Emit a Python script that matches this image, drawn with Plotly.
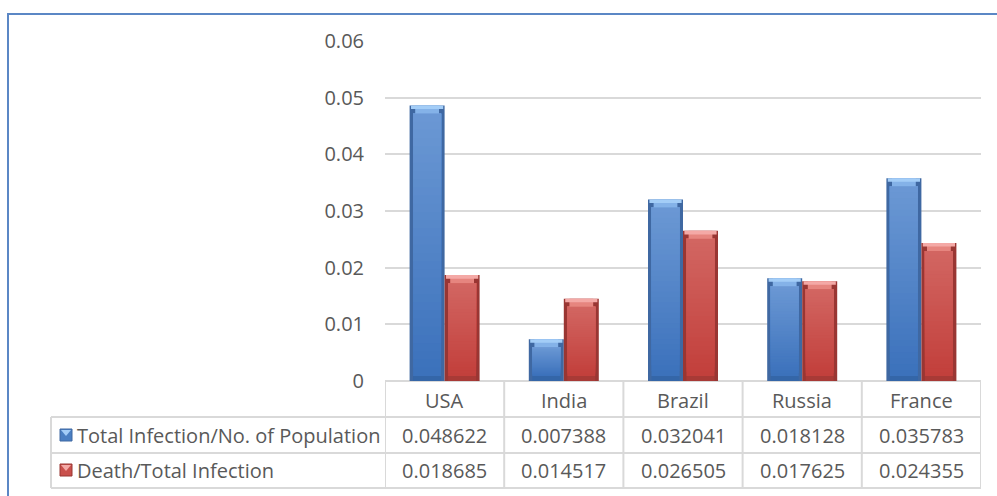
import plotly.graph_objects as go

# Data
countries = ["USA", "India", "Brazil", "Russia", "France"]
infection_rate = [0.048622, 0.007388, 0.032041, 0.018128, 0.035783]
death_rate = [0.018685, 0.014517, 0.026505, 0.017625, 0.024355]
series_names = ["Total Infection/No. of Population", "Death/Total Infection"]
y_ticks = [0, 0.01, 0.02, 0.03, 0.04, 0.05, 0.06]

W, H = 997, 496
FONT = "Open Sans"
FSIZE = 20
TXT = "#595959"
GRID = "#d9d9d9"


def px(x):
    return x / W


def py(y):
    return 1 - y / H


def mix(c1, c2, t):
    a = [int(c1[i:i + 2], 16) for i in (1, 3, 5)]
    b = [int(c2[i:i + 2], 16) for i in (1, 3, 5)]
    return "#" + "".join(f"{round(p + (q - p) * t):02x}" for p, q in zip(a, b))


# plot-area geometry (pixels)
X0, X1 = 385, 981
Y_TOP, Y_BOT = 41, 381
col_px = (X1 - X0) / len(countries)
unit_y = (Y_BOT - Y_TOP) / 0.06

bar_w = 35 / col_px        # one bar width, category units
edge = 3.5 / col_px        # bevel edge width
cap_top = 8 / unit_y       # top bevel height
cap_bot = 5 / unit_y       # bottom bevel height
N_SEG = 32                 # vertical gradient steps in the bar body

xs = list(range(len(countries)))

styles = [
    dict(vals=infection_rate, off=-bar_w, edge="#3f68a2",
         body_lo="#3b71bb", body_hi="#6b98d4",
         top="#a3cdf7", top2="#84b2e8", bottom="#3466a8", key="#4a7fc2"),
    dict(vals=death_rate, off=0.0, edge="#993633",
         body_lo="#c23f3b", body_hi="#d26662",
         top="#f4a9a6", top2="#e6857f", bottom="#a83a36", key="#c9504c"),
]

fig = go.Figure()
for st in styles:
    v = st["vals"]
    n = len(v)
    # outer bar (dark edge)
    fig.add_trace(go.Bar(x=xs, y=v, offset=st["off"], width=bar_w,
                         marker=dict(color=st["edge"], line=dict(width=0)),
                         showlegend=False, hoverinfo="skip"))
    # body gradient: each slice runs to the body top, the next one paints over it
    body_h = [max(a - cap_top - cap_bot, 0) for a in v]
    for k in range(N_SEG):
        fig.add_trace(go.Bar(
            x=xs, y=[h * (N_SEG - k) / N_SEG for h in body_h],
            base=[cap_bot + h * k / N_SEG for h in body_h],
            offset=st["off"] + edge, width=bar_w - 2 * edge,
            marker=dict(color=mix(st["body_lo"], st["body_hi"], (k + 0.5) / N_SEG),
                        line=dict(width=0)),
            showlegend=False, hoverinfo="skip"))
    # top bevel: narrower soft strip, then the wide light strip above it
    fig.add_trace(go.Bar(x=xs, y=[cap_top] * n,
                         base=[a - cap_top for a in v],
                         offset=st["off"] + edge * 1.6, width=bar_w - edge * 3.2,
                         marker=dict(color=st["top2"], line=dict(width=0)),
                         showlegend=False, hoverinfo="skip"))
    fig.add_trace(go.Bar(x=xs, y=[cap_top * 0.45] * n,
                         base=[a - cap_top * 0.45 for a in v],
                         offset=st["off"] + edge * 0.4, width=bar_w - edge * 0.8,
                         marker=dict(color=st["top"], line=dict(width=0)),
                         showlegend=False, hoverinfo="skip"))
    # bottom bevel
    fig.add_trace(go.Bar(x=xs, y=[cap_bot] * n, base=[0] * n,
                         offset=st["off"] + edge, width=bar_w - 2 * edge,
                         marker=dict(color=st["bottom"], line=dict(width=0)),
                         showlegend=False, hoverinfo="skip"))

shapes = []
annotations = []

# outer chart border (runs off the right and bottom edges)
shapes.append(dict(type="rect", xref="paper", yref="paper",
                   x0=px(8), x1=px(1010), y0=py(510), y1=py(14),
                   line=dict(color="#5b87c5", width=2), layer="below"))

# data table grid
row_lines = [417, 453, 488]
for yy in row_lines:
    shapes.append(dict(type="line", xref="paper", yref="paper",
                       x0=px(51), x1=px(X1), y0=py(yy), y1=py(yy),
                       line=dict(color=GRID, width=2)))
shapes.append(dict(type="line", xref="paper", yref="paper",
                   x0=px(51), x1=px(51), y0=py(417), y1=py(488),
                   line=dict(color=GRID, width=2)))
for i in range(len(countries) + 1):
    shapes.append(dict(type="line", xref="x", yref="paper",
                       x0=i - 0.5, x1=i - 0.5, y0=py(Y_BOT), y1=py(488),
                       line=dict(color=GRID, width=2)))

# category headers
for i, c in enumerate(countries):
    annotations.append(dict(x=i, y=py(400), xref="x", yref="paper", text=c,
                            showarrow=False, xanchor="center", yanchor="middle",
                            font=dict(family=FONT, size=FSIZE, color=TXT)))

# table rows: legend key, series name, values
row_y = [435, 470]
for r, (name, st) in enumerate(zip(series_names, styles)):
    yc = row_y[r]
    shapes.append(dict(type="rect", xref="paper", yref="paper",
                       x0=px(60), x1=px(72), y0=py(yc + 6), y1=py(yc - 6),
                       fillcolor=st["key"], line=dict(color=st["edge"], width=1)))
    shapes.append(dict(type="path", xref="paper", yref="paper",
                       path=f"M {px(61)},{py(yc - 5)} L {px(71)},{py(yc - 5)} L {px(66)},{py(yc + 1)} Z",
                       fillcolor=st["top"], line=dict(width=0)))
    annotations.append(dict(x=px(75), y=py(yc), xref="paper", yref="paper",
                            text=name, showarrow=False, xanchor="left",
                            yanchor="middle",
                            font=dict(family=FONT, size=FSIZE, color=TXT)))
    for i, v in enumerate(st["vals"]):
        annotations.append(dict(x=i, y=py(yc), xref="x", yref="paper",
                                text=f"{v:.6f}", showarrow=False,
                                xanchor="center", yanchor="middle",
                                font=dict(family=FONT, size=FSIZE, color=TXT)))

fig.update_layout(
    width=W, height=H,
    margin=dict(l=0, r=0, t=0, b=0, pad=0, autoexpand=False),
    paper_bgcolor="white", plot_bgcolor="white",
    barmode="overlay",
    showlegend=False,
    shapes=shapes,
    annotations=annotations,
    xaxis=dict(domain=[px(X0), px(X1)], range=[-0.5, len(countries) - 0.5],
               showticklabels=False, showgrid=False, zeroline=False,
               showline=False, ticks="", automargin=False),
    yaxis=dict(domain=[py(Y_BOT), py(Y_TOP)], range=[0, 0.06],
               tickvals=y_ticks, ticktext=[f"{t:g}" for t in y_ticks],
               showgrid=True, gridcolor=GRID, gridwidth=2,
               zeroline=True, zerolinecolor=GRID, zerolinewidth=2,
               showline=False, ticks="", ticklabelstandoff=20,
               automargin=False,
               tickfont=dict(family=FONT, size=FSIZE, color=TXT)),
)

fig.write_html("out.html")
